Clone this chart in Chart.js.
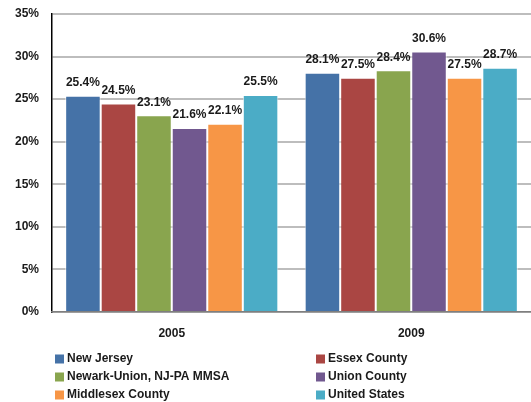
<!DOCTYPE html>
<html>
<head>
<meta charset="utf-8">
<script src="https://cdn.jsdelivr.net/npm/chart.js@4"></script>
<style>
  html, body { margin: 0; padding: 0; background: #fff; }
  #wrap { width: 531px; height: 402px; }
</style>
</head>
<body>
<div id="wrap"><canvas id="poverty" width="531" height="402"></canvas></div>
<script>
const years = ['2005', '2009'];
const seriesNames = ['New Jersey', 'Essex County', 'Newark-Union, NJ-PA MMSA', 'Union County', 'Middlesex County', 'United States'];
const seriesValues = [
  [25.4, 28.1],
  [24.5, 27.5],
  [23.1, 28.4],
  [21.6, 30.6],
  [22.1, 27.5],
  [25.5, 28.7]
];
const seriesColors = ['#4572A7', '#AA4643', '#89A54E', '#71588F', '#F79646', '#4BACC6'];
const yTicks = [0, 5, 10, 15, 20, 25, 30, 35];

const FONT = '"Liberation Sans", Arial, sans-serif';

// value labels on top of each bar
const barLabels = {
  id: 'barLabels',
  afterDatasetsDraw(chart) {
    const ctx = chart.ctx;
    ctx.save();
    ctx.font = 'bold 12px ' + FONT;
    ctx.fillStyle = '#1a1a1a';
    ctx.textAlign = 'center';
    ctx.textBaseline = 'bottom';
    chart.data.datasets.forEach((ds, i) => {
      chart.getDatasetMeta(i).data.forEach((bar, j) => {
        ctx.fillText(ds.data[j].toFixed(1) + '%', bar.x, bar.y - 7);
      });
    });
    ctx.restore();
  }
};

// two column legend under the axis
const gridLegend = {
  id: 'gridLegend',
  afterDraw(chart) {
    const ctx = chart.ctx;
    const area = chart.chartArea;
    const cols = [area.left + 3, area.left + 264];
    const top = area.bottom + 47;
    ctx.save();
    ctx.font = 'bold 12px ' + FONT;
    ctx.textBaseline = 'middle';
    ctx.textAlign = 'left';
    chart.data.datasets.forEach((ds, i) => {
      const x = cols[i % 2];
      const y = top + Math.floor(i / 2) * 18;
      ctx.fillStyle = ds.backgroundColor;
      ctx.fillRect(x, y - 4.5, 9, 9);
      ctx.fillStyle = '#1a1a1a';
      ctx.fillText(ds.label, x + 12, y);
    });
    ctx.restore();
  }
};

new Chart(document.getElementById('poverty'), {
  type: 'bar',
  data: {
    labels: years,
    datasets: seriesNames.map((name, i) => ({
      label: name,
      data: seriesValues[i],
      backgroundColor: seriesColors[i],
      borderColor: 'rgba(255,255,255,0.7)',
      borderWidth: 1,
      borderSkipped: 'bottom',
      categoryPercentage: 0.89,
      barPercentage: 1
    }))
  },
  options: {
    responsive: false,
    animation: false,
    layout: { padding: { top: 14, right: 0, bottom: 60, left: 0 } },
    scales: {
      y: {
        min: 0,
        max: 35,
        afterBuildTicks: (scale) => { scale.ticks = yTicks.map(v => ({ value: v })); },
        afterFit: (scale) => {
          scale.width = 52;
          scale.paddingTop = 0;
          scale.paddingBottom = 0;
        },
        ticks: {
          callback: (v) => v + '%',
          font: { family: FONT, size: 12, weight: 'bold' },
          color: '#1a1a1a',
          padding: 13
        },
        grid: { color: '#BDBDBD', lineWidth: 2, drawTicks: false },
        border: { color: '#000', width: 1.5 }
      },
      x: {
        afterFit: (scale) => { scale.height = 30; },
        ticks: {
          font: { family: FONT, size: 12, weight: 'bold' },
          color: '#1a1a1a',
          padding: 6
        },
        grid: { display: false },
        border: { color: '#7f7f7f', width: 1.5 }
      }
    },
    plugins: {
      legend: { display: false },
      tooltip: { enabled: false }
    }
  },
  plugins: [barLabels, gridLegend]
});
</script>
</body>
</html>
